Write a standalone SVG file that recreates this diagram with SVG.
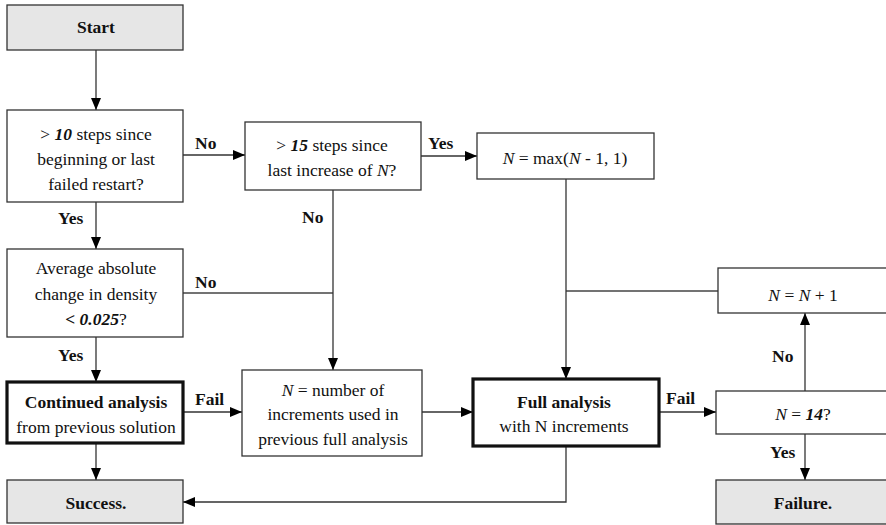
<svg xmlns="http://www.w3.org/2000/svg" width="886" height="525" viewBox="0 0 886 525">
  <style>
    text { font-family: "Liberation Serif", "Times New Roman", Times, "DejaVu Serif", serif; font-size: 17.5px; fill: #111; }
    .c { text-anchor: middle; }
    .b { font-weight: bold; }
    .i { font-style: italic; }
    .bi { font-weight: bold; font-style: italic; }
    .box { fill: #fff; stroke: #333; stroke-width: 1.3; }
    .term { fill: #e6e6e6; stroke: #333; stroke-width: 1.3; }
    .thick { fill: #fff; stroke: #111; stroke-width: 3.2; }
    .wire { fill: none; stroke: #444; stroke-width: 1.3; }
    .arrow { fill: none; stroke: #333; stroke-width: 1.3; marker-end: url(#ah); }
  </style>
  <defs>
    <marker id="ah" viewBox="0 0 12 10" refX="12" refY="5" markerWidth="12" markerHeight="10" markerUnits="userSpaceOnUse" orient="auto">
      <path d="M0,0 L12,5 L0,10 Z" fill="#000"/>
    </marker>
  </defs>

  <!-- connectors -->
  <g id="connectors">
    <path class="arrow" d="M96,50 V110"/>
    <path class="arrow" d="M183,155 H245"/>
    <path class="arrow" d="M421,156 H477"/>
    <path class="arrow" d="M96,202 V249"/>
    <path class="arrow" d="M96,337 V382"/>
    <path class="wire" d="M183,293 H333"/>
    <path class="arrow" d="M333,190 V370"/>
    <path class="arrow" d="M96,443 V480"/>
    <path class="arrow" d="M183,412 H242"/>
    <path class="arrow" d="M422,412 H473"/>
    <path class="wire" d="M718,291 H566"/>
    <path class="arrow" d="M566,179 V379"/>
    <path class="arrow" d="M659,412 H716"/>
    <path class="arrow" d="M805,391 V313"/>
    <path class="arrow" d="M805,434 V480"/>
    <path class="arrow" d="M566,446 V502 H183"/>

    <text class="b" x="195" y="149">No</text>
    <text class="b" x="428" y="149">Yes</text>
    <text class="b" x="302" y="223">No</text>
    <text class="b" x="58" y="224">Yes</text>
    <text class="b" x="195" y="288">No</text>
    <text class="b" x="58" y="361">Yes</text>
    <text class="b" x="195" y="405">Fail</text>
    <text class="b" x="666" y="404">Fail</text>
    <text class="b" x="772" y="362">No</text>
    <text class="b" x="770" y="458">Yes</text>
  </g>

  <g id="start">
    <rect class="term" x="7" y="5" width="176" height="45"/>
    <text class="c b" x="96" y="33">Start</text>
  </g>

  <g id="check-steps">
    <rect class="box" x="7" y="110" width="176" height="92"/>
    <text class="c" x="96" y="140">&gt; <tspan class="bi">10</tspan> steps since</text>
    <text class="c" x="96" y="165">beginning or last</text>
    <text class="c" x="96" y="190">failed restart?</text>
  </g>

  <g id="check-increase">
    <rect class="box" x="245" y="122" width="176" height="68"/>
    <text class="c" x="332" y="151">&gt; <tspan class="bi">15</tspan> steps since</text>
    <text class="c" x="332" y="176">last increase of <tspan class="i">N</tspan>?</text>
  </g>

  <g id="decrease-n">
    <rect class="box" x="477" y="133" width="177" height="46"/>
    <text class="c" x="565" y="164"><tspan class="i">N</tspan> = max(<tspan class="i">N</tspan> - 1, 1)</text>
  </g>

  <g id="check-density">
    <rect class="box" x="7" y="249" width="176" height="88"/>
    <text class="c" x="96" y="274">Average absolute</text>
    <text class="c" x="96" y="300">change in density</text>
    <text class="c" x="96" y="325"><tspan class="bi">&lt; 0.025</tspan>?</text>
  </g>

  <!-- right-hand column runs past the right edge of the canvas -->
  <g id="increase-n">
    <rect class="box" x="718" y="268" width="180" height="45"/>
    <text class="c" x="803" y="301"><tspan class="i">N</tspan> = <tspan class="i">N</tspan> + 1</text>
  </g>

  <g id="continued-analysis">
    <rect class="thick" x="7" y="382" width="176" height="61"/>
    <text class="c b" x="96" y="408">Continued analysis</text>
    <text class="c" x="96" y="433">from previous solution</text>
  </g>

  <g id="set-n">
    <rect class="box" x="242" y="370" width="180" height="86"/>
    <text class="c" x="333" y="396"><tspan class="i">N</tspan> = number of</text>
    <text class="c" x="333" y="420">increments used in</text>
    <text class="c" x="333" y="445">previous full analysis</text>
  </g>

  <g id="full-analysis">
    <rect class="thick" x="473" y="379" width="186" height="67"/>
    <text class="c b" x="564" y="408">Full analysis</text>
    <text class="c" x="564" y="432">with N increments</text>
  </g>

  <g id="check-max">
    <rect class="box" x="716" y="391" width="182" height="43"/>
    <text class="c" x="803" y="420"><tspan class="i">N</tspan> = <tspan class="bi">14</tspan>?</text>
  </g>

  <g id="success">
    <rect class="term" x="7" y="480" width="176" height="43"/>
    <text class="c b" x="96" y="509">Success.</text>
  </g>

  <g id="failure">
    <rect class="term" x="716" y="480" width="182" height="44"/>
    <text class="c b" x="803" y="509">Failure.</text>
  </g>
</svg>
